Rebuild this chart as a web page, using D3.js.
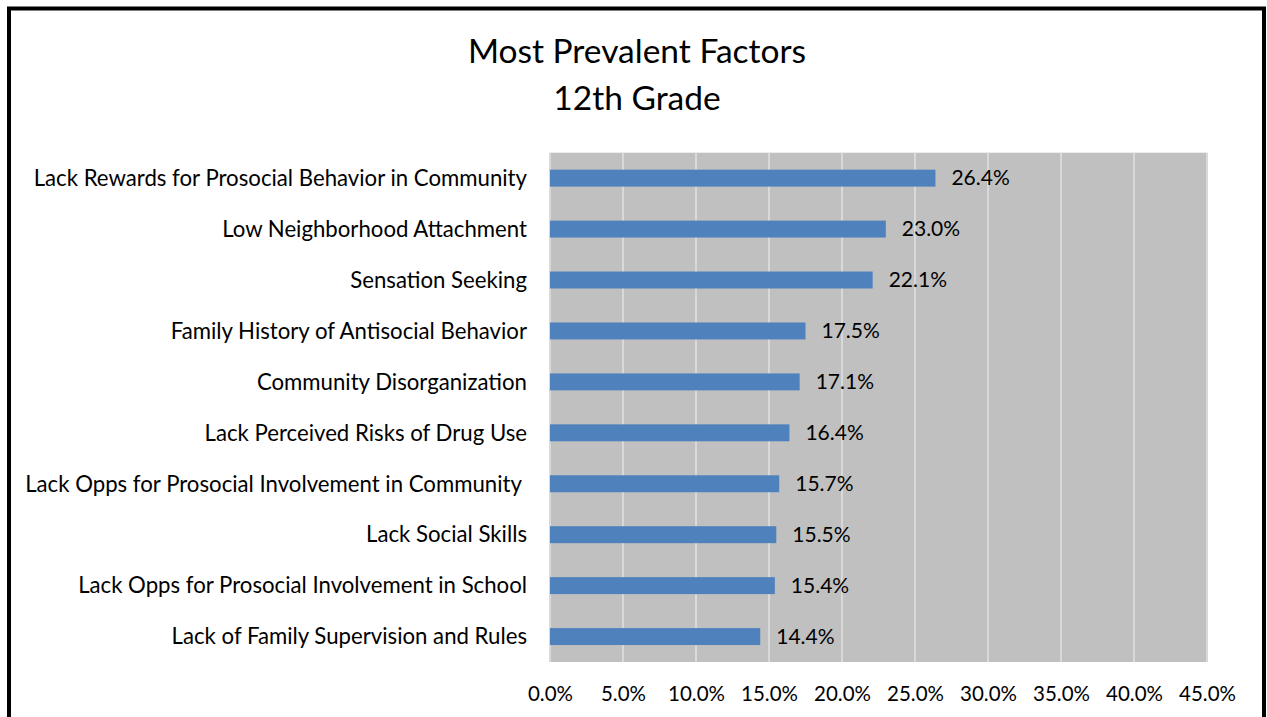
<!DOCTYPE html>
<html>
<head>
<meta charset="utf-8">
<script src="https://cdn.jsdelivr.net/npm/d3@7"></script>
<style>
  body { margin: 0; background: #fff; }
  svg text { font-family: Lato, "Open Sans", sans-serif; fill: #000; }
</style>
</head>
<body>
<svg id="chart" width="1267" height="717"></svg>
<script>
// chart data, top to bottom
var categories = [
  "Lack Rewards for Prosocial Behavior in Community",
  "Low Neighborhood Attachment",
  "Sensation Seeking",
  "Family History of Antisocial Behavior",
  "Community Disorganization",
  "Lack Perceived Risks of Drug Use",
  "Lack Opps for Prosocial Involvement in Community ",
  "Lack Social Skills",
  "Lack Opps for Prosocial Involvement in School",
  "Lack of Family Supervision and Rules"
];
var values = [0.264, 0.230, 0.221, 0.175, 0.171, 0.164, 0.157, 0.155, 0.154, 0.144];
var ticks = [0, 0.05, 0.10, 0.15, 0.20, 0.25, 0.30, 0.35, 0.40, 0.45];
var titleLines = ["Most Prevalent Factors", "12th Grade"];

var svg = d3.select("#chart");

// outer frame (bottom edge is off the page)
svg.append("rect")
  .attr("x", 9).attr("y", 8.5)
  .attr("width", 1255).attr("height", 740)
  .attr("fill", "none").attr("stroke", "#000").attr("stroke-width", 4);

var x = d3.scaleLinear().domain([0, 0.45]).range([550, 1207]);
var y = d3.scaleBand().domain(categories).range([152.7, 662])
  .paddingInner(0.667).paddingOuter(0.333);

// plot background
svg.append("rect")
  .attr("x", x(0)).attr("y", 152.7)
  .attr("width", x(0.45) - x(0)).attr("height", 662 - 152.7)
  .attr("fill", "#c0c0c0");

// grid
svg.append("g").selectAll("line")
  .data(ticks)
  .join("line")
  .attr("x1", d => x(d)).attr("x2", d => x(d))
  .attr("y1", 152.7).attr("y2", 662)
  .attr("stroke", "#d9d9d9").attr("stroke-width", 2);

// bars
svg.append("g").selectAll("rect")
  .data(values)
  .join("rect")
  .attr("x", x(0))
  .attr("y", (d, i) => y(categories[i]))
  .attr("width", d => x(d) - x(0))
  .attr("height", y.bandwidth())
  .attr("fill", "#4f81bd");

// value labels
svg.append("g").selectAll("text")
  .data(values)
  .join("text")
  .attr("x", d => x(d) + 16)
  .attr("y", (d, i) => y(categories[i]) + y.bandwidth() / 2)
  .attr("dy", "0.35em")
  .style("font-size", "21px")
  .text(d => d3.format(".1%")(d));

// category labels
svg.append("g").selectAll("text")
  .data(categories)
  .join("text")
  .attr("x", 527)
  .attr("y", d => y(d) + y.bandwidth() / 2)
  .attr("dy", "0.35em")
  .attr("text-anchor", "end")
  .style("font-size", "22.2px")
  .style("white-space", "pre")
  .text(d => d);

// x axis labels
var xAxis = svg.append("g")
  .attr("transform", "translate(0,683)")
  .call(d3.axisBottom(x).tickValues(ticks).tickSize(0).tickFormat(d3.format(".1%")));
xAxis.select(".domain").remove();
xAxis.selectAll("text")
  .style("font-family", "Lato, sans-serif")
  .style("font-size", "20.5px")
  .attr("fill", "#000");

// title
svg.append("g").selectAll("text")
  .data(titleLines)
  .join("text")
  .attr("x", 637)
  .attr("y", (d, i) => 63 + i * 47)
  .attr("text-anchor", "middle")
  .style("font-size", "33.5px")
  .text(d => d);
</script>
</body>
</html>
